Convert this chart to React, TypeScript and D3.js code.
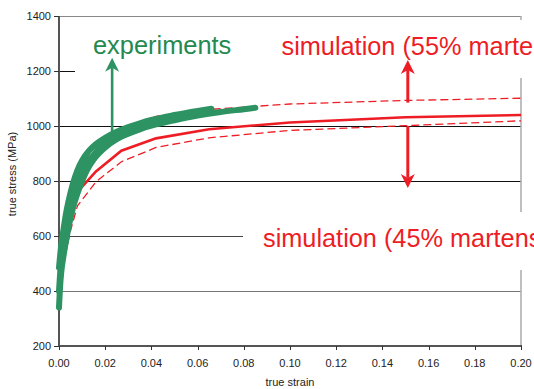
import React from "react";
import * as d3 from "d3";

type Pt = [number, number];

// x tick values (true strain) and y tick values (true stress, MPa)
const xTicks: number[] = [0, 0.02, 0.04, 0.06, 0.08, 0.1, 0.12, 0.14, 0.16, 0.18, 0.2];
const yTicks: number[] = [200, 400, 600, 800, 1000, 1200, 1400];

// experimental curves (several specimens forming a band)
const expA: Pt[] = [
  [0, 340], [0.0005, 420], [0.001, 470], [0.002, 530], [0.003, 580], [0.004, 625],
  [0.005, 665], [0.006, 700], [0.008, 755], [0.01, 800], [0.012, 838], [0.015, 878],
  [0.02, 922], [0.025, 952], [0.03, 972], [0.035, 988], [0.04, 1001], [0.05, 1021],
  [0.06, 1038], [0.07, 1051], [0.08, 1061], [0.085, 1066],
];
const expB: Pt[] = [
  [0, 400], [0.001, 520], [0.002, 580], [0.004, 670], [0.006, 745], [0.01, 840],
  [0.015, 895], [0.02, 940], [0.03, 985], [0.04, 1012], [0.05, 1030], [0.06, 1046],
  [0.066, 1055],
];
const expC: Pt[] = [
  [0, 485], [0.0005, 530], [0.001, 570], [0.0017, 610], [0.003, 680], [0.004, 722],
  [0.006, 790], [0.008, 840], [0.01, 875], [0.013, 910], [0.016, 934], [0.02, 957],
  [0.025, 979], [0.03, 996], [0.035, 1010], [0.04, 1022], [0.05, 1040], [0.06, 1055],
  [0.066, 1063],
];

// simulations
const simMean: Pt[] = [
  [0, 420], [0.002, 560], [0.004, 660], [0.008, 760], [0.016, 835], [0.027, 910],
  [0.042, 955], [0.065, 988], [0.1, 1013], [0.15, 1032], [0.2, 1040],
];
const sim55: Pt[] = [
  [0, 450], [0.004, 700], [0.008, 830], [0.016, 935], [0.027, 990], [0.042, 1035],
  [0.065, 1060], [0.1, 1080], [0.15, 1093], [0.2, 1101],
];
const sim45: Pt[] = [
  [0, 400], [0.002, 500], [0.005, 620], [0.008, 710], [0.016, 797], [0.027, 870],
  [0.042, 922], [0.065, 957], [0.1, 984], [0.15, 1001], [0.2, 1019],
];

// annotation labels (as visible in the figure)
const labelExp = "experiments";
const label55 = "simulation (55% marte";
const label45 = "simulation (45% martens";

// annotation arrows: [x strain, from stress, to stress]
const greenArrow: [number, number, number] = [0.023, 955, 1248];
const redArrowUp: [number, number, number] = [0.151, 1085, 1240];
const redArrowDown: [number, number, number] = [0.151, 1000, 775];

const W = 534;
const H = 389;
const FONT = "'Liberation Sans', Arial, Helvetica, sans-serif";
const GREEN = "#2e9363";
const GREEN_TXT = "#24894f";
const RED = "#ee1d25";

export default function App() {
  const x = d3.scaleLinear().domain([0, 0.2]).range([59, 521]);
  const y = d3.scaleLinear().domain([200, 1400]).range([346, 16]);

  const smooth = d3
    .line<Pt>()
    .x((d) => x(d[0]))
    .y((d) => y(d[1]))
    .curve(d3.curveMonotoneX);
  const poly = d3
    .line<Pt>()
    .x((d) => x(d[0]))
    .y((d) => y(d[1]));

  const arrow = (a: [number, number, number], color: string, w: number) => {
    const ax = x(a[0]);
    const y0 = y(a[1]);
    const y1 = y(a[2]);
    const dir = y1 < y0 ? -1 : 1;
    const headLen = 14;
    const headHalf = 7;
    const baseY = y1 - dir * headLen;
    const notchY = y1 - dir * (headLen - 4);
    return (
      <g>
        <line x1={ax} y1={y0} x2={ax} y2={notchY} stroke={color} strokeWidth={w} />
        <path
          d={`M${ax},${y1} L${ax + headHalf},${baseY} L${ax},${notchY} L${ax - headHalf},${baseY} Z`}
          fill={color}
        />
      </g>
    );
  };

  const gridColor = (v: number) => (v === 400 ? "#777" : v === 600 ? "#444" : "#111");

  return (
    <svg
      width={W}
      height={H}
      style={{ position: "absolute", left: 0, top: 0, background: "#fff" }}
      fontFamily={FONT}
    >
      <rect x={0} y={0} width={W} height={H} fill="#fff" />
      {/* gridlines */}
      {yTicks
        .filter((v) => v > 200 && v < 1400)
        .map((v) => (
          <line
            key={"g" + v}
            x1={x(0)}
            x2={x(0.2)}
            y1={Math.round(y(v)) + 0.5}
            y2={Math.round(y(v)) + 0.5}
            stroke={gridColor(v)}
            strokeWidth={1}
          />
        ))}
      {/* plot border top/right */}
      <line x1={x(0)} x2={x(0.2)} y1={16.5} y2={16.5} stroke="#888" strokeWidth={1} />
      <line x1={521} x2={521} y1={16} y2={346} stroke="#aaa" strokeWidth={1.5} />

      {/* white label boxes covering grid */}
      <rect x={75} y={28} width={200} height={52} fill="#fff" />
      <rect x={270} y={20} width={264} height={58} fill="#fff" />
      <rect x={243} y={212} width={291} height={58} fill="#fff" />

      {/* axes */}
      <line x1={x(0)} x2={x(0)} y1={16} y2={347} stroke="#555" strokeWidth={2} />
      <line x1={58} x2={x(0.2) + 1} y1={346} y2={346} stroke="#555" strokeWidth={2} />
      {yTicks.map((v) => (
        <g key={"yt" + v}>
          <line x1={54} x2={59} y1={Math.round(y(v)) + 0.5} y2={Math.round(y(v)) + 0.5} stroke="#333" />
          <text x={51} y={y(v)} dy="0.35em" textAnchor="end" fontSize={11} fill="#222">
            {v}
          </text>
        </g>
      ))}
      {xTicks.map((v) => (
        <g key={"xt" + v}>
          <line x1={Math.round(x(v)) + 0.5} x2={Math.round(x(v)) + 0.5} y1={346} y2={350} stroke="#333" />
          <text x={x(v)} y={366.5} textAnchor="middle" fontSize={11} fill="#222">
            {v.toFixed(2)}
          </text>
        </g>
      ))}
      <text x={290} y={386} textAnchor="middle" fontSize={11} fill="#222">
        true strain
      </text>
      <text
        transform={`translate(16,${y(800) - 7}) rotate(-90)`}
        textAnchor="middle"
        fontSize={11}
        fill="#222"
      >
        true stress (MPa)
      </text>

      {/* simulations */}
      <path d={poly(sim55) || ""} fill="none" stroke={RED} strokeWidth={1.3} strokeDasharray="8,4" />
      <path d={poly(sim45) || ""} fill="none" stroke={RED} strokeWidth={1.3} strokeDasharray="8,4" />
      <path d={poly(simMean) || ""} fill="none" stroke={RED} strokeWidth={2.6} />

      {/* experiments */}
      {[expA, expB, expC].map((c, i) => (
        <path
          key={"e" + i}
          d={smooth(c) || ""}
          fill="none"
          stroke={GREEN}
          strokeWidth={6}
          strokeLinecap="round"
          strokeLinejoin="round"
        />
      ))}

      {/* arrows */}
      {arrow(greenArrow, GREEN, 2.6)}
      {arrow(redArrowUp, RED, 3)}
      {arrow(redArrowDown, RED, 3)}

      {/* labels */}
      <text x={93} y={53.5} fontSize={25.4} fill={GREEN_TXT}>
        {labelExp}
      </text>
      <text x={281.5} y={54.5} fontSize={25.3} fill={RED}>
        {label55}
      </text>
      <text x={263} y={246.5} fontSize={25.3} fill={RED}>
        {label45}
      </text>
    </svg>
  );
}
